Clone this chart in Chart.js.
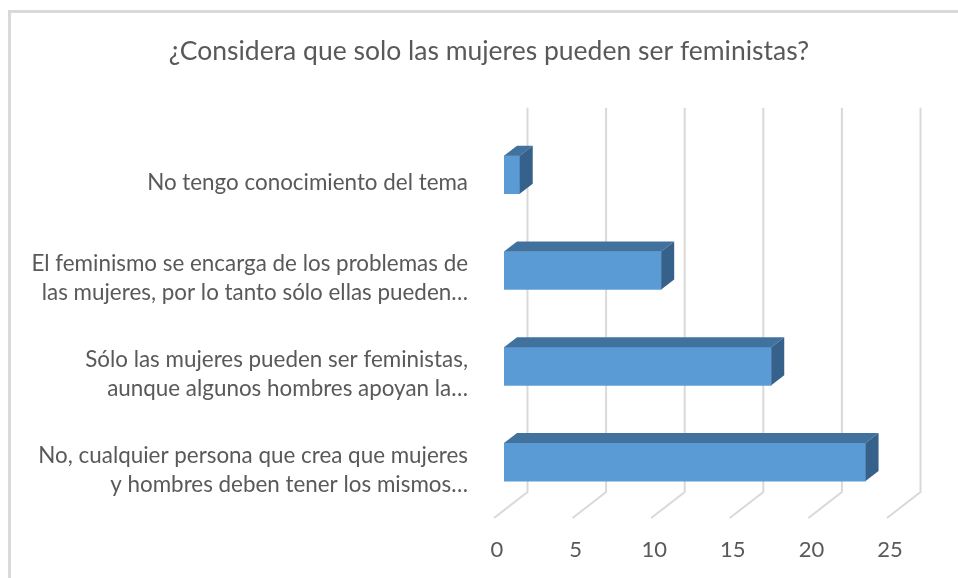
<!DOCTYPE html>
<html>
<head>
<meta charset="utf-8">
<script src="https://cdn.jsdelivr.net/npm/chart.js@4/dist/chart.umd.min.js"></script>
<style>
html,body{margin:0;padding:0;background:#fff;}
#wrap{position:relative;width:958px;height:578px;}
</style>
</head>
<body>
<div id="wrap"><canvas id="c" width="958" height="578"></canvas></div>
<script>
const chartTitle = "¿Considera que solo las mujeres pueden ser feministas?";
const categories = [
  ["No tengo conocimiento del tema"],
  ["El feminismo se encarga de los problemas de", "las mujeres, por lo tanto sólo ellas pueden…"],
  ["Sólo las mujeres pueden ser feministas,", "aunque algunos hombres apoyan la…"],
  ["No, cualquier persona que crea que mujeres", "y hombres deben tener los mismos…"]
];
const values = [1, 10, 17, 23];
const axisMin = 0;
const axisMax = 25;
const axisStep = 5;

const FONT = "Lato, 'Open Sans', sans-serif";
const TEXT = "#595959";
const GRID = "#D9D9D9";

const framePlugin = {
  id: 'frame',
  beforeDraw(chart) {
    const ctx = chart.ctx;
    ctx.save();
    ctx.fillStyle = '#fff';
    ctx.fillRect(0, 0, chart.width, chart.height);
    ctx.strokeStyle = GRID;
    ctx.lineWidth = 3;
    ctx.beginPath();
    ctx.moveTo(9.5, chart.height);
    ctx.lineTo(9.5, 11.5);
    ctx.lineTo(chart.width, 11.5);
    ctx.stroke();
    ctx.restore();
  }
};

const gridPlugin = {
  id: 'grid3d',
  beforeDatasetsDraw(chart) {
    const ctx = chart.ctx;
    const xs = chart.scales.x;
    const a = chart.chartArea;
    ctx.save();
    ctx.strokeStyle = GRID;
    ctx.lineWidth = 2;
    xs.ticks.forEach(t => {
      const px = xs.getPixelForValue(t.value);
      ctx.beginPath();
      ctx.moveTo(px + 23.5, a.top - 19);
      ctx.lineTo(px + 23.5, a.bottom - 18);
      ctx.lineTo(px - 10, a.bottom + 8);
      ctx.stroke();
    });
    ctx.restore();
  }
};

const bar3dPlugin = {
  id: 'bar3d',
  afterDatasetsDraw(chart) {
    const ctx = chart.ctx;
    const meta = chart.getDatasetMeta(0);
    const dx = 13, dy = 10;
    ctx.save();
    meta.data.forEach(el => {
      const p = el.getProps(['x', 'y', 'base', 'height'], true);
      const top = p.y - p.height / 2, bot = p.y + p.height / 2;
      const l = Math.min(p.base, p.x), r = Math.max(p.base, p.x);
      ctx.fillStyle = '#41729E';
      ctx.beginPath();
      ctx.moveTo(l, top);
      ctx.lineTo(l + dx, top - dy);
      ctx.lineTo(r + dx, top - dy);
      ctx.lineTo(r, top);
      ctx.closePath();
      ctx.fill();
      ctx.fillStyle = '#36618A';
      ctx.beginPath();
      ctx.moveTo(r, top);
      ctx.lineTo(r + dx, top - dy);
      ctx.lineTo(r + dx, bot - dy);
      ctx.lineTo(r, bot);
      ctx.closePath();
      ctx.fill();
    });
    ctx.restore();
  }
};

new Chart(document.getElementById('c'), {
  type: 'bar',
  data: {
    labels: categories,
    datasets: [{
      data: values,
      backgroundColor: '#5B9BD5',
      borderWidth: 0,
      barThickness: 38
    }]
  },
  options: {
    indexAxis: 'y',
    responsive: false,
    animation: false,
    devicePixelRatio: 1,
    layout: { padding: { left: 20, right: 0, top: 0, bottom: 0 } },
    plugins: {
      legend: { display: false },
      tooltip: { enabled: false },
      title: {
        display: true,
        text: chartTitle,
        color: TEXT,
        font: { family: FONT, size: 26.5, weight: 'normal', lineHeight: 1.2 },
        padding: { top: 36, bottom: 59 }
      }
    },
    scales: {
      x: {
        min: axisMin,
        max: axisMax,
        grid: { display: false, drawTicks: false },
        border: { display: false },
        ticks: {
          stepSize: axisStep,
          color: TEXT,
          font: { family: FONT, size: 22 },
          padding: 27,
          labelOffset: -7,
          maxRotation: 0
        },
        afterFit(s) { s.height = 68; }
      },
      y: {
        grid: { display: false, drawTicks: false },
        border: { display: false },
        ticks: {
          color: TEXT,
          font: { family: FONT, size: 22.4, lineHeight: 1.31 },
          padding: 36,
          labelOffset: 8
        },
        afterFit(s) { s.width = 484; }
      },
      yR: {
        type: 'linear',
        axis: 'y',
        position: 'right',
        grid: { display: false, drawTicks: false },
        border: { display: false },
        ticks: { display: false },
        afterFit(s) { s.width = 61; }
      }
    }
  },
  plugins: [framePlugin, gridPlugin, bar3dPlugin]
});
</script>
</body>
</html>
